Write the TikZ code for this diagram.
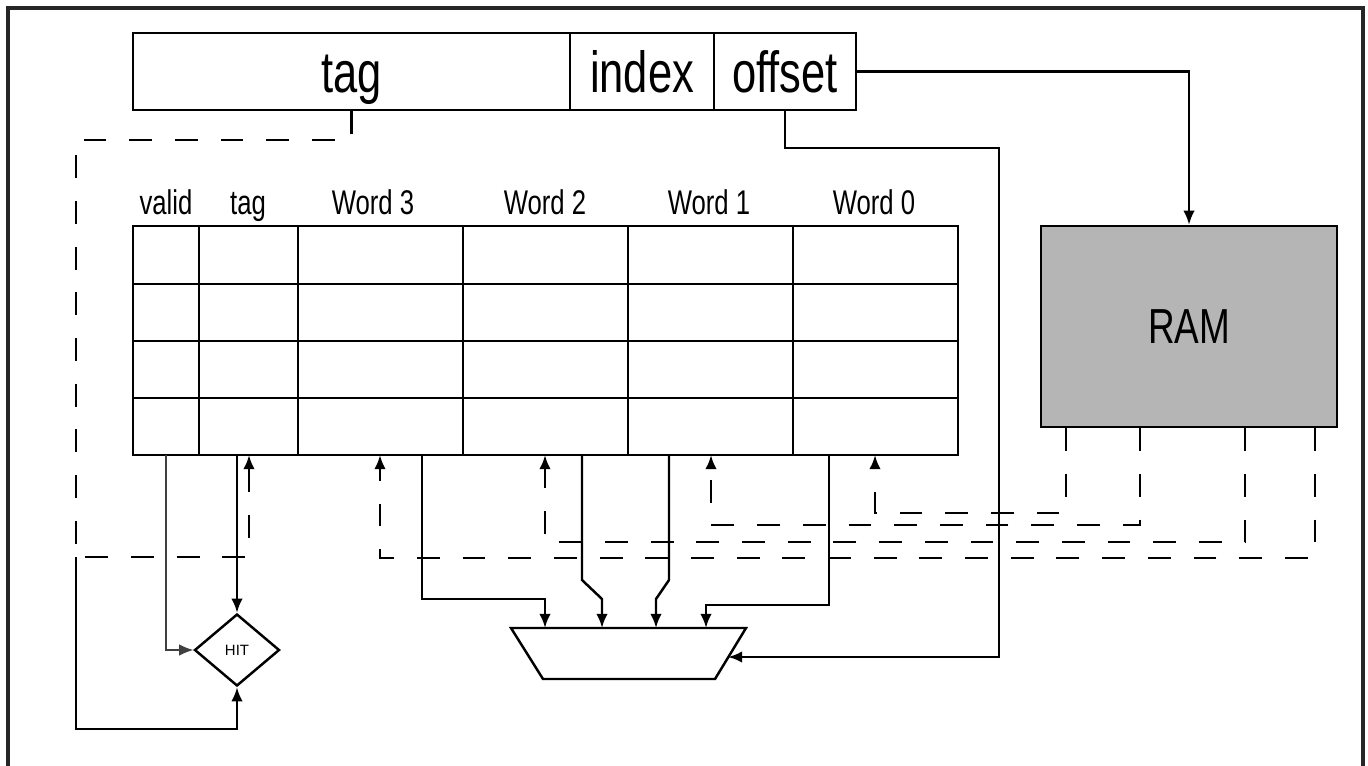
\documentclass[tikz,border=0pt]{standalone}
\usepackage{fontspec}
\setmainfont[FakeStretch=0.75]{Liberation Sans}
\newfontfamily\plainsf{Liberation Sans}
\usetikzlibrary{shapes.geometric,arrows.meta}

\begin{document}
\begin{tikzpicture}[x=0.02cm,y=-0.02cm]
	\tikzset{>={Latex[length=8pt,width=6.5pt]}}
	\tikzset{wire/.style={line width=1.4pt},
		dline/.style={line width=1.4pt,dash pattern=on 13pt off 13pt},
		field/.style={draw,line width=1.2pt,minimum height=1.54cm,inner sep=0pt,
			text height=24pt,text depth=0pt,font=\fontsize{33}{33}\selectfont},
		head/.style={anchor=base,font=\fontsize{19.5}{19.5}\selectfont}}
	\useasboundingbox (0,0) rectangle (1368,765);
	\draw[line width=1.8pt,black!85] (8,775) -- (8,8) -- (1363,8) -- (1363,775);
	
	% address
	\node[field,minimum width=8.74cm] (tagf) at (351.5,71.5) {tag};
	\node[field,minimum width=2.88cm] (idxf) at (642,71.5) {index};
	\node[field,minimum width=2.84cm] (offf) at (785,71.5) {offset};
	
	% cache lines
	\node[head] (lvalid) at (166,214) {valid};
	\node[head] (ltag) at (248,214) {tag};
	\node[head] (lw3) at (373,214) {Word 3};
	\node[head] (lw2) at (545,214) {Word 2};
	\node[head] (lw1) at (709,214) {Word 1};
	\node[head] (lw0) at (874,214) {Word 0};
	\draw[wire] (133,226) rectangle (958,455);
	\foreach \y in {284,341,398}
	\draw[wire] (133,\y) -- (958,\y);
	\foreach \x in {199,298,463,628,793}
	\draw[wire] (\x,226) -- (\x,455);
	
	\node[draw,wire,fill=black!29,minimum width=5.92cm,minimum height=4.02cm,
		font=\fontsize{28}{28}\selectfont] (ram) at (1189,326.5) {RAM};
	\node[draw,wire,diamond,minimum width=1.7cm,minimum height=1.44cm,inner sep=0pt,
		font=\plainsf\fontsize{8.5}{8.5}\selectfont] (hit) at (237,650) {HIT};
	
	\coordinate (muxnw) at (511,628);
	\coordinate (muxne) at (746,628);
	\coordinate (muxse) at (715,679);
	\coordinate (muxsw) at (543,679);
	\draw[wire] (muxnw) -- (muxne) -- (muxse) -- (muxsw) -- cycle;
	\coordinate (muxsel) at (728,657);
	\coordinate (m3) at (545,628);
	\coordinate (m2) at (602,628);
	\coordinate (m1) at (656,628);
	\coordinate (m0) at (706,628);
	
	\coordinate (vbot) at (166,455);
	\coordinate (tbot) at (237,455);
	\coordinate (tin) at (249,455);
	\coordinate (d3) at (380,455);
	\coordinate (w3out) at (422,455);
	\coordinate (d2) at (545,455);
	\coordinate (w2out) at (582,455);
	\coordinate (w1out) at (669,455);
	\coordinate (d1) at (711,455);
	\coordinate (w0out) at (829,455);
	\coordinate (d0) at (875,455);
	
	\coordinate (offturn) at (999,148);
	\coordinate (tagturn) at (76,140);
	\coordinate (tagleft) at (76,557);
	\coordinate (hitloop) at (76,729);
	
	\draw[wire,->] (offf.east) -| (ram.north);
	\draw[wire,->] (offf.south) |- (offturn) |- (muxsel);
	\draw[dline,->] (tagf.south) |- (tagturn) |- (249,557) -- (tin);
	\draw[wire,->] (tagleft) -- (hitloop) -| (hit.south);
	\draw[line width=0.7pt,black!75,->] (vbot) |- (hit.west);
	\draw[wire,->] (tbot) -- (hit.north);
	
	\draw[wire,->] (w3out) |- ([yshift=0.58cm]m3) -- (m3);
	\draw[wire,->] (w2out) -- ++(0,125) -- ([yshift=0.58cm]m2) -- (m2);
	\draw[wire,->] (w1out) -- ++(0,125) -- ([yshift=0.58cm]m1) -- (m1);
	\draw[wire,->] (w0out) |- ([yshift=0.46cm]m0) -- (m0);
	
	\foreach \dx/\lvl/\cx/\col in {-2.46/513/875/d0,-0.98/525/711/d1,1.12/542/545/d2,2.52/558/380/d3}
	\draw[dline,->] ([xshift=\dx cm]ram.south) |- (\cx,\lvl) -- (\col);
	
\end{tikzpicture}
\end{document}
